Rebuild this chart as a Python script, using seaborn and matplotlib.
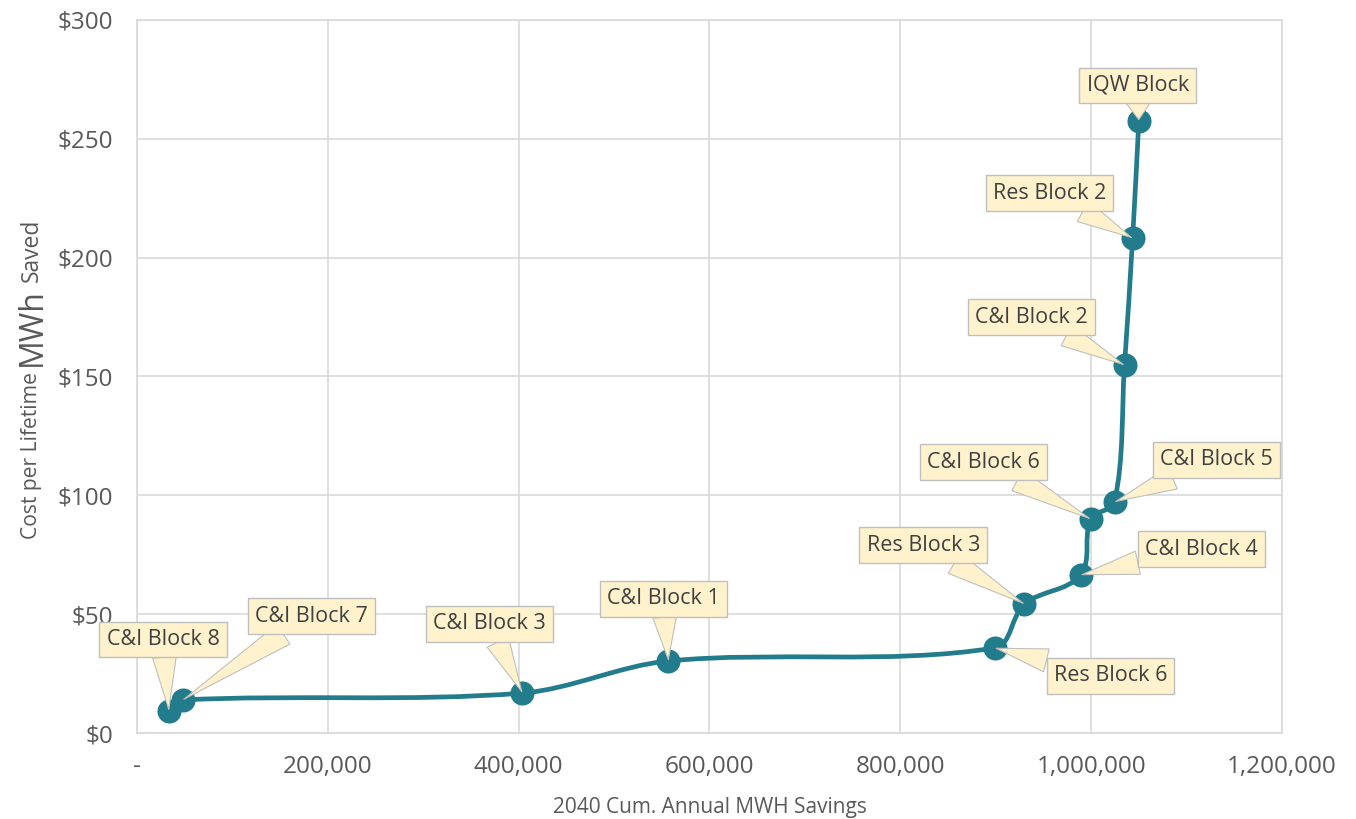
"""Supply curve: cost per lifetime MWh saved vs 2040 cumulative annual savings."""
import numpy as np
import pandas as pd
import matplotlib
matplotlib.use("Agg")
import matplotlib.pyplot as plt
from matplotlib.path import Path
from matplotlib.patches import PathPatch
from matplotlib.ticker import FuncFormatter
import seaborn as sns

# ── data ──────────────────────────────────────────────────────────────────────
blocks = ["C&I Block 8", "C&I Block 7", "C&I Block 3", "C&I Block 1", "Res Block 6",
          "Res Block 3", "C&I Block 4", "C&I Block 6", "C&I Block 5", "C&I Block 2",
          "Res Block 2", "IQW Block"]
savings = [33500, 48000, 404000, 557000, 899000, 930000, 989000, 999500,
           1024500, 1035000, 1043500, 1050000]
cost = [9.3, 13.9, 16.8, 30.3, 35.8, 54.3, 66.5, 90.0, 97.2, 154.8, 208.2, 257.5]
# label box centres (data units)
label_x = [27300, 182500, 369000, 551500, 1020500, 824000, 1116000, 887000,
           1131500, 937500, 956500, 1048800]
label_y = [39.5, 49.2, 45.9, 56.4, 24.0, 79.1, 77.4, 114.0, 114.9, 175.0, 227.2, 272.6]

x_ticks = [0, 200000, 400000, 600000, 800000, 1000000, 1200000]
y_ticks = [0, 50, 100, 150, 200, 250, 300]

TEAL = "#237c8c"
GRID = "#d9d9d9"
TXT = "#595959"
BOX_FC, BOX_EC = "#fff2cc", "#bfbfbf"

df = pd.DataFrame({"block": blocks, "savings": savings, "cost": cost})

sns.set_style("white")
plt.rcParams["font.family"] = ["Open Sans", "DejaVu Sans"]

fig = plt.figure(figsize=(13.56, 8.19), dpi=100)
ax = fig.add_axes([0.101, 0.105, 0.8444, 0.8706])
ax.set_xlim(0, 1200000)
ax.set_ylim(0, 300)

# smoothed line: Bezier through the points, tangents taken in screen space
disp = ax.transData.transform(df[["savings", "cost"]].to_numpy(float))
n = len(disp)
tang = []
for i in range(n):
    d = disp[min(i + 1, n - 1)] - disp[max(i - 1, 0)]
    tang.append(d / np.hypot(*d))
verts, codes = [disp[0]], [Path.MOVETO]
for i in range(n - 1):
    seg = np.hypot(*(disp[i + 1] - disp[i])) * 0.33
    verts += [disp[i] + tang[i] * seg, disp[i + 1] - tang[i + 1] * seg, disp[i + 1]]
    codes += [Path.CURVE4] * 3
verts = ax.transData.inverted().transform(np.array(verts))
ax.add_patch(PathPatch(Path(verts, codes), fc="none", ec=TEAL, lw=3.4,
                       capstyle="round", joinstyle="round", zorder=3))

sns.scatterplot(data=df, x="savings", y="cost", ax=ax, color=TEAL, s=300,
                edgecolor=TEAL, linewidth=0, zorder=4, legend=False)

for name, px, py, lx, ly in zip(blocks, savings, cost, label_x, label_y):
    ax.annotate(name, xy=(px, py), xytext=(lx, ly), ha="center", va="center",
                fontsize=15.5, color="#404040", zorder=6,
                bbox=dict(boxstyle="square,pad=0.33", fc=BOX_FC, ec=BOX_EC, lw=1),
                arrowprops=dict(arrowstyle="wedge,tail_width=1.1,shrink_factor=0.5",
                                fc=BOX_FC, ec=BOX_EC, lw=0.8,
                                shrinkA=0, shrinkB=1))

ax.set_xticks(x_ticks)
ax.set_yticks(y_ticks)
ax.xaxis.set_major_formatter(FuncFormatter(lambda v, _: "-" if v == 0 else f"{v:,.0f}"))
ax.yaxis.set_major_formatter(FuncFormatter(lambda v, _: f"${v:.0f}"))
ax.tick_params(axis="both", length=0, labelsize=17.5, colors=TXT)
ax.tick_params(axis="x", pad=16)
ax.tick_params(axis="y", pad=17)
ax.grid(True, color=GRID, lw=1.2)
for s in ax.spines.values():
    s.set_color(GRID)
    s.set_linewidth(1.2)
ax.set_xlabel("2040 Cum. Annual MWH Savings", fontsize=15, color=TXT, labelpad=13)
ax.set_ylabel("")

# y label with the larger "MWh", pieces stacked upward
fx = 32 / 1356
renderer = fig.canvas.get_renderer()
y0 = 1 - 539 / 819
for piece, size in [("Cost per Lifetime", 15.2), ("MWh", 23), ("Saved", 16.5)]:
    t = fig.text(fx, y0, piece, rotation=90, ha="center", va="bottom",
                 fontsize=size, color=TXT)
    bb = t.get_window_extent(renderer)
    y0 = bb.y1 / fig.bbox.height + 6 / 819

fig.savefig("out.png", dpi=100)
